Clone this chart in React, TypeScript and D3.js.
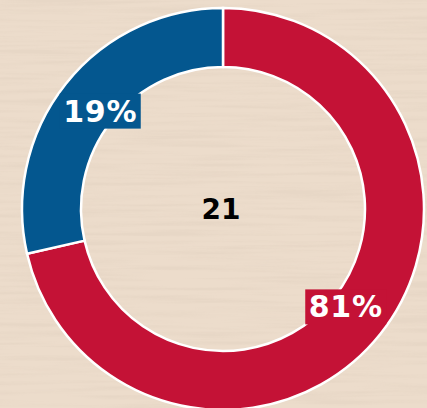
import * as React from "react";
import * as d3 from "d3";

const categories = ["Red", "Blue"];
const counts = [15, 6];
const labels = ["81%", "19%"];
const colors = ["#c41236", "#04578f"];
const totalLabel = "21";

const App = () => {
  const width = 427;
  const height = 408;
  const cx = 223;
  const cy = 209;
  const outerR = 201;
  const innerR = 142;
  const labelR = 157;

  const pie = d3
    .pie<number>()
    .sort(null)
    .value((d) => d)
    .startAngle(0)
    .endAngle(2 * Math.PI);
  const arcs = pie(counts);
  const arc = d3.arc<d3.PieArcDatum<number>>().innerRadius(innerR).outerRadius(outerR);

  const fontFamily = "'DejaVu Sans', Verdana, sans-serif";

  return (
    <svg
      width={width}
      height={height}
      viewBox={`0 0 ${width} ${height}`}
      style={{ position: "fixed", top: 0, left: 0, display: "block" }}
    >
      <defs>
        <filter id="wood" x="0" y="0" width="100%" height="100%">
          <feTurbulence type="fractalNoise" baseFrequency="0.008 0.22" numOctaves="3" seed="4" />
          <feColorMatrix
            type="matrix"
            values="0 0 0 0 0.76  0 0 0 0 0.64  0 0 0 0 0.53  0 0 0 -3.2 1.9"
          />
        </filter>
      </defs>
      <rect width={width} height={height} fill="#ecdccb" />
      <rect width={width} height={height} filter="url(#wood)" opacity={0.4} />

      <g transform={`translate(${cx},${cy})`}>
        {arcs.map((a, i) => (
          <path key={categories[i]} d={arc(a) ?? ""} fill={colors[i]} stroke="#fff" strokeWidth={2.5} />
        ))}
        {arcs.map((a, i) => {
          const mid = (a.startAngle + a.endAngle) / 2;
          const x = labelR * Math.sin(mid);
          const y = -labelR * Math.cos(mid);
          const w = 81;
          const h = 35;
          return (
            <g key={`lbl-${categories[i]}`} transform={`translate(${x},${y})`}>
              <rect x={-w / 2} y={-h / 2} width={w} height={h} fill={colors[i]} />
              <text
                x={0}
                y={10.5}
                textAnchor="middle"
                fill="#fff"
                fontSize={30}
                fontWeight="bold"
                fontFamily={fontFamily}
                letterSpacing={0.8}
              >
                {labels[i]}
              </text>
            </g>
          );
        })}
        <text
          x={-2}
          y={10}
          textAnchor="middle"
          fill="#000"
          fontSize={28}
          fontWeight="bold"
          fontFamily={fontFamily}
        >
          {totalLabel}
        </text>
      </g>
    </svg>
  );
};

export default App;
